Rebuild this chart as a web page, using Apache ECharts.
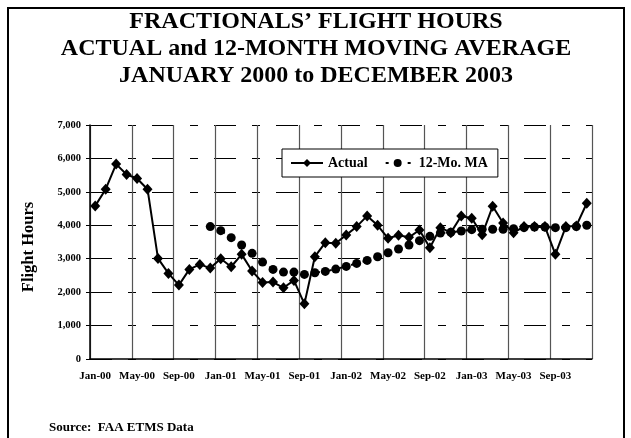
<!DOCTYPE html>
<html>
<head>
<meta charset="utf-8">
<script src="https://cdn.jsdelivr.net/npm/echarts@6/dist/echarts.min.js"></script>
<style>
  html,body{margin:0;padding:0;background:#fff;}
  #box{width:631px;height:438px;}
</style>
</head>
<body>
<div id="box"></div>
<script>
var monthNames=['Jan','Feb','Mar','Apr','May','Jun','Jul','Aug','Sep','Oct','Nov','Dec'];
var years=['00','01','02','03'];
var months=[];
years.forEach(function(y){
  monthNames.forEach(function(m){ months.push(m+'-'+y); });
});

var actual=[4580,5080,5830,5520,5400,5080,3010,2560,2210,2680,2830,2720,
            3000,2760,3130,2630,2290,2300,2130,2350,1650,3060,3480,3460,
            3710,3960,4280,4000,3610,3700,3640,3860,3330,3930,3780,4280,
            4210,3720,4570,4070,3780,3960,3960,3960,3130,3960,3980,4660];

var movingAvg=[null,null,null,null,null,null,null,null,null,null,null,3960,
               3840,3630,3410,3160,2900,2680,2600,2600,2530,2580,2620,2690,
               2770,2860,2950,3060,3180,3290,3410,3540,3670,3770,3790,3830,
               3870,3880,3880,3880,3900,3930,3950,3950,3930,3930,3960,4000];

var yTicks=[0,1000,2000,3000,4000,5000,6000,7000];

var serif='"Liberation Serif","Times New Roman",serif';
var titleText="FRACTIONALS\u2019 FLIGHT HOURS\nACTUAL and 12-MONTH MOVING AVERAGE\nJANUARY 2000 to DECEMBER 2003";

var mychart=echarts.init(document.getElementById('box'));
var option={
  backgroundColor:'#fff',
  animation:false,
  graphic:[
    {type:'rect',shape:{x:8,y:8,width:616,height:450},style:{fill:'none',stroke:'#000',lineWidth:2},silent:true},
    {type:'text',x:316,y:8,style:{text:titleText,font:'bold 24px '+serif,lineHeight:27,align:'center',fill:'#000'}},
    {type:'text',left:49,top:421,style:{text:'Source:  FAA ETMS Data',font:'bold 13px '+serif,fill:'#000'}}
  ],
  legend:{
    left:282,
    top:149,
    itemWidth:32,
    itemHeight:10,
    itemGap:13,
    padding:[7,10,7,8],
    borderColor:'#000',
    borderWidth:1,
    backgroundColor:'#fff',
    textStyle:{fontFamily:serif,fontWeight:'bold',fontSize:14,color:'#000'},
    data:[
      {name:'Actual'},
      {name:'12-Mo. MA',itemStyle:{color:'#000'},lineStyle:{type:[3,19],dashOffset:-4}}
    ]
  },
  grid:{left:90,right:39,top:125,bottom:79},
  xAxis:{
    type:'category',
    data:months,
    boundaryGap:true,
    axisLine:{lineStyle:{color:'#000',width:1.5}},
    axisTick:{interval:3,length:4,lineStyle:{color:'#000'}},
    axisLabel:{interval:3,margin:12,fontFamily:serif,fontWeight:'bold',fontSize:11,color:'#000'},
    splitLine:{show:true,interval:3,lineStyle:{color:'#555',width:1.2}}
  },
  yAxis:{
    type:'value',
    min:0,
    max:7000,
    interval:1000,
    name:'Flight Hours',
    nameLocation:'middle',
    nameGap:53,
    nameTextStyle:{fontFamily:serif,fontWeight:'bold',fontSize:16.5,color:'#000',padding:[0,10,0,0]},
    axisLine:{show:true,lineStyle:{color:'#000',width:1.5}},
    axisTick:{show:true,length:4,lineStyle:{color:'#000'}},
    axisLabel:{margin:9,fontFamily:serif,fontWeight:'bold',fontSize:10.5,color:'#000',
      formatter:function(v){ return yTicks.indexOf(v)>=0 ? v.toLocaleString('en-US') : ''; }},
    splitLine:{show:true,lineStyle:{color:'#000',width:1.2,type:[22,16,8,16]}}
  },
  series:[
    {
      name:'Actual',
      type:'line',
      data:actual,
      symbol:'diamond',
      symbolSize:[10,11],
      showAllSymbol:true,
      itemStyle:{color:'#000'},
      lineStyle:{color:'#000',width:2}
    },
    {
      name:'12-Mo. MA',
      type:'line',
      data:movingAvg,
      symbol:'circle',
      symbolSize:9,
      showAllSymbol:true,
      itemStyle:{color:'#000'},
      lineStyle:{color:'#000',width:2,type:[4,8]}
    }
  ]
};
mychart.setOption(option);
</script>
</body>
</html>
